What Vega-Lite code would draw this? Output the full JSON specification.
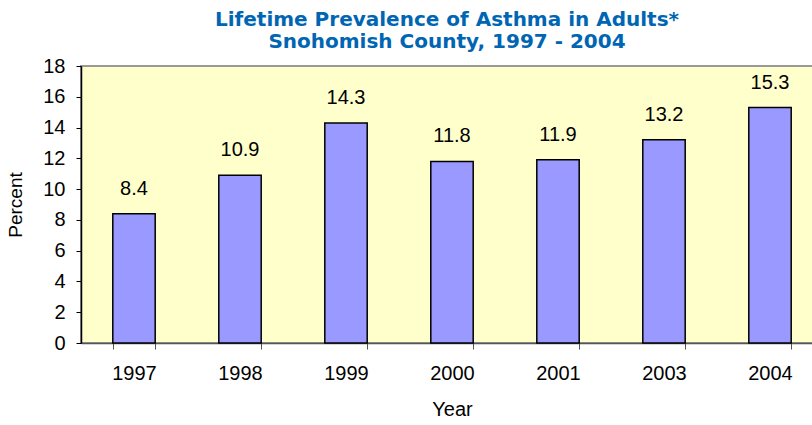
{
  "$schema": "https://vega.github.io/schema/vega-lite/v6.json",
  "width": 732,
  "height": 277,
  "autosize": {"type": "none"},
  "padding": {"left": 81, "top": 66, "right": 0, "bottom": 82},
  "background": "white",
  "config": {
    "font": "Liberation Sans",
    "view": {"fill": "#FFFFCC", "stroke": "#999999", "strokeWidth": 2}
  },
  "title": {
    "text": ["Lifetime Prevalence of Asthma in Adults*", "Snohomish County, 1997 - 2004"],
    "font": "DejaVu Sans",
    "fontSize": 20,
    "fontWeight": "bold",
    "color": "#0066B3",
    "lineHeight": 22,
    "anchor": "middle",
    "offset": 4
  },
  "data": {
    "values": [
      {"Year": "1997", "Percent": 8.4},
      {"Year": "1998", "Percent": 10.9},
      {"Year": "1999", "Percent": 14.3},
      {"Year": "2000", "Percent": 11.8},
      {"Year": "2001", "Percent": 11.9},
      {"Year": "2003", "Percent": 13.2},
      {"Year": "2004", "Percent": 15.3}
    ]
  },
  "encoding": {
    "x": {
      "field": "Year",
      "type": "nominal",
      "scale": {"range": [0, 742], "paddingInner": 0.6, "paddingOuter": 0.3},
      "axis": {
        "labelAngle": 0,
        "labelFontSize": 20,
        "labelColor": "black",
        "labelPadding": 14,
        "tickBand": "extent",
        "tickColor": "#555555",
        "tickSize": 6,
        "domainColor": "#555555",
        "domainWidth": 1.5,
        "title": "Year",
        "titleFontSize": 20,
        "titleFontWeight": "normal",
        "titleColor": "black",
        "titlePadding": 16
      }
    },
    "y": {
      "field": "Percent",
      "type": "quantitative",
      "scale": {"domain": [0, 18], "nice": false},
      "axis": {
        "values": [0, 2, 4, 6, 8, 10, 12, 14, 16, 18],
        "grid": false,
        "labelFontSize": 20,
        "labelColor": "black",
        "labelPadding": 11,
        "tickColor": "black",
        "tickSize": 5,
        "domainColor": "black",
        "domainWidth": 1.5,
        "title": "Percent",
        "titleFontSize": 19,
        "titleFontWeight": "normal",
        "titleColor": "black",
        "titlePadding": 17
      }
    }
  },
  "layer": [
    {
      "mark": {"type": "bar", "fill": "#9999FF", "stroke": "black", "strokeWidth": 1.5}
    },
    {
      "mark": {"type": "text", "fontSize": 20, "color": "black", "dy": -19, "baseline": "alphabetic"},
      "encoding": {"text": {"field": "Percent", "type": "quantitative", "format": ".1f"}}
    }
  ]
}
